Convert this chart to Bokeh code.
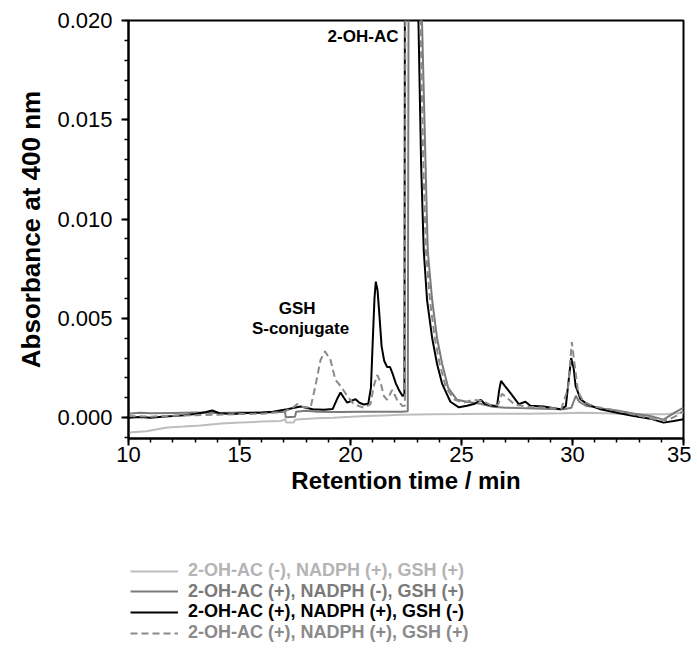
from bokeh.plotting import figure
from bokeh.layouts import column
from bokeh.models import Legend, LegendItem, FixedTicker, NumeralTickFormatter, ColumnDataSource
from bokeh.core.properties import value
from bokeh.embed import file_html
from bokeh.resources import INLINE

FONT = "Liberation Sans"

# ---------------- data ----------------
# 2-OH-AC (-), NADPH (+), GSH (+)
t_light = [10.0, 10.8, 11.74, 12.5, 13.24, 14.2, 15.05, 16.0, 16.85, 17.07, 17.1, 17.45, 17.5, 17.75,
           18.5, 19.23, 20.0, 20.75, 21.5, 22.26, 23.0, 23.76, 25.0, 26.5, 28.0, 29.5, 30.36, 31.5,
           32.76, 34.2, 35.0]
a_light = [-0.00075, -0.00068, -0.00050, -0.00045, -0.00039, -0.00030, -0.00025, -0.00020, -0.00017,
           -0.00008, -0.00025, -0.00024, -0.00010, -0.00008, -0.00003, 0.00000, 0.00004, 0.00008,
           0.00011, 0.00014, 0.00016, 0.00017, 0.00018, 0.00020, 0.00020, 0.00022, 0.00025, 0.00022,
           0.00017, 0.00017, 0.00025]

# 2-OH-AC (+), NADPH (-), GSH (+)
t_gray = [10.0, 10.5, 11.0, 12.0, 13.0, 14.0, 15.0, 16.0, 16.9, 17.05, 17.08, 17.5, 17.55, 18.0, 18.5,
          19.5, 20.5, 21.5, 22.3, 22.58, 22.63, 23.0, 23.22, 23.38, 23.48, 23.68, 23.9, 24.13, 24.4,
          24.8, 25.25, 25.86, 26.4, 27.0, 27.6, 28.3, 29.0, 29.6, 29.95, 30.05, 30.15, 30.3, 30.6,
          31.2, 32.0, 32.8, 33.5, 34.1, 34.6, 35.0]
a_gray = [0.00020, 0.00025, 0.00022, 0.00024, 0.00026, 0.00024, 0.00026, 0.00025, 0.00028, 0.00030,
          0.00002, 0.00004, 0.00030, 0.00035, 0.00030, 0.00028, 0.00030, 0.00030, 0.00030, 0.00032,
          0.03, 0.08, 0.0200, 0.0128, 0.0084, 0.0059, 0.0040, 0.0027, 0.0015, 0.0009, 0.0008, 0.0007,
          0.00055, 0.0005, 0.00048, 0.00046, 0.00044, 0.00042, 0.00050, 0.00080, 0.00110, 0.00080,
          0.00060, 0.00048, 0.00036, 0.00020, 0.00008, -0.0001, 0.00025, 0.0005]

# 2-OH-AC (+), NADPH (+), GSH (-)
t_black = [10.0, 10.5, 11.0, 11.5, 12.0, 12.5, 13.0, 13.5, 13.77, 14.1, 14.7, 15.3, 16.0, 16.5, 17.15,
           17.75, 18.3, 18.8, 19.2, 19.4, 19.55, 19.7, 19.85, 20.05, 20.23, 20.4, 20.6, 20.8, 20.92,
           21.0, 21.08, 21.14, 21.22, 21.3, 21.4, 21.52, 21.65, 21.78, 21.9, 22.05, 22.2, 22.35, 22.43,
           22.46, 22.8, 23.06, 23.18, 23.3, 23.45, 23.68, 23.9, 24.13, 24.5, 24.88, 25.25, 25.6, 25.86,
           26.05, 26.3, 26.6, 26.7, 26.78, 26.95, 27.2, 27.58, 27.88, 28.1, 28.7, 29.46, 29.7, 29.83,
           29.94, 30.05, 30.14, 30.36, 30.66, 31.26, 32.0, 32.76, 33.5, 34.1, 34.56, 35.0]
a_black = [0.00000, 0.00003, 0.00000, 0.00005, 0.00008, 0.00012, 0.00018, 0.00028, 0.00036, 0.00022,
           0.00018, 0.00024, 0.00026, 0.00030, 0.00042, 0.00056, 0.00042, 0.00040, 0.00044, 0.00095,
           0.00127, 0.00100, 0.00076, 0.00085, 0.00093, 0.00075, 0.00066, 0.00070, 0.00150, 0.00380,
           0.00600, 0.00685, 0.00640, 0.00520, 0.00360, 0.00285, 0.00255, 0.00255, 0.00220, 0.00170,
           0.00135, 0.00108, 0.00120, 0.03, 0.08, 0.0200, 0.0128, 0.0084, 0.0059, 0.0040, 0.0027,
           0.0017, 0.00080, 0.00052, 0.00060, 0.00070, 0.00090, 0.00070, 0.00062, 0.00058, 0.00140,
           0.00185, 0.00160, 0.00125, 0.00068, 0.00080, 0.00060, 0.00056, 0.00042, 0.00058, 0.00190,
           0.00300, 0.00250, 0.00160, 0.00093, 0.00068, 0.00042, 0.00025, 0.00008, -0.00005, -0.00025,
           -0.00017, -0.00008]

# 2-OH-AC (+), NADPH (+), GSH (+)
t_dash = [10.0, 11.0, 12.0, 13.0, 14.0, 15.0, 16.0, 17.0, 17.4, 17.6, 17.8, 18.2, 18.42, 18.65, 18.85,
          19.1, 19.32, 19.55, 19.85, 20.15, 20.6, 20.9, 21.05, 21.2, 21.35, 21.5, 21.65, 21.88, 22.1,
          22.33, 22.45, 22.48, 22.85, 23.15, 23.28, 23.4, 23.58, 23.8, 24.02, 24.3, 24.7, 25.1, 25.5,
          25.9, 26.4, 26.65, 26.82, 27.0, 27.4, 28.0, 28.8, 29.5, 29.8, 29.97, 30.08, 30.25, 30.5,
          31.0, 32.0, 33.0, 33.8, 34.3, 34.7, 35.0]
a_dash = [0.00008, 0.00005, 0.00010, 0.00012, 0.00015, 0.00018, 0.00020, 0.00030, 0.00050, 0.00068,
          0.00055, 0.00050, 0.00160, 0.00290, 0.00334, 0.00290, 0.00190, 0.00160, 0.00110, 0.00068,
          0.00050, 0.00068, 0.00160, 0.00215, 0.00180, 0.00110, 0.00090, 0.00140, 0.00090, 0.00059,
          0.00060, 0.03, 0.08, 0.0200, 0.0128, 0.0084, 0.0059, 0.0040, 0.0027, 0.0015, 0.0009,
          0.00075, 0.00090, 0.00085, 0.00060, 0.00065, 0.00120, 0.00105, 0.00065, 0.00055, 0.00050,
          0.00045, 0.00150, 0.00380, 0.00280, 0.00130, 0.00080, 0.00055, 0.00035, 0.00010, -0.00010,
          -0.00012, 0.00010, 0.00035]

series_labels = ["2-OH-AC (-), NADPH (+), GSH (+)",
                 "2-OH-AC (+), NADPH (-), GSH (+)",
                 "2-OH-AC (+), NADPH (+), GSH (-)",
                 "2-OH-AC (+), NADPH (+), GSH (+)"]

x_ticks = [10, 15, 20, 25, 30, 35]
y_ticks = [0.000, 0.005, 0.010, 0.015, 0.020]

ann_x = [22.16, 17.6, 17.75]
ann_y = [0.0192, 0.0055, 0.0045]
ann_text = ["2-OH-AC", "GSH", "S-conjugate"]

data = [(t_light, a_light), (t_gray, a_gray), (t_black, a_black), (t_dash, a_dash)]
styles = [dict(color="#bdbdbd", dash="solid"),
          dict(color="#7a7a7a", dash="solid"),
          dict(color="#000000", dash="solid"),
          dict(color="#8a8a8a", dash="7 4")]
text_colors = ["#b4b4b4", "#7a7a7a", "#000000", "#8a8a8a"]

# ---------------- main chart ----------------
p = figure(frame_width=555, frame_height=418, x_range=(10, 35), y_range=(-0.00105, 0.020),
           output_backend="svg", toolbar_location=None,
           min_border_left=128, min_border_right=8, min_border_top=20, min_border_bottom=110)
p.xgrid.visible = False
p.ygrid.visible = False
p.outline_line_color = "black"
p.outline_line_width = 2

for (tt, aa), st in zip(data, styles):
    p.line(tt, aa, line_color=st["color"], line_width=2, line_dash=st["dash"])

for ax in (p.xaxis[0], p.yaxis[0]):
    ax.axis_line_width = 2
    ax.major_tick_line_width = 2
    ax.minor_tick_line_width = 1.5
    ax.major_tick_out = 7
    ax.major_tick_in = 0
    ax.minor_tick_out = 4
    ax.minor_tick_in = 0
    ax.major_label_text_font = FONT
    ax.major_label_text_font_size = "22px"
    ax.major_label_text_color = "black"
    ax.axis_label_text_font = FONT
    ax.axis_label_text_font_style = "bold"
    ax.axis_label_text_color = "black"

p.xaxis[0].ticker = FixedTicker(ticks=x_ticks, minor_ticks=list(range(10, 36)))
p.yaxis[0].ticker = FixedTicker(ticks=y_ticks,
                                minor_ticks=[round(-0.001 + 0.001 * i, 3) for i in range(22)])
p.yaxis[0].formatter = NumeralTickFormatter(format="0.000")
p.xaxis[0].axis_label = "Retention time / min"
p.yaxis[0].axis_label = "Absorbance at 400 nm"
p.xaxis[0].axis_label_text_font_size = "24px"
p.yaxis[0].axis_label_text_font_size = "26px"
p.xaxis[0].major_label_standoff = 1
p.yaxis[0].major_label_standoff = 9
p.xaxis[0].axis_label_standoff = 2
p.yaxis[0].axis_label_standoff = 8

src = ColumnDataSource(dict(x=ann_x, y=ann_y, text=ann_text,
                            align=["right", "center", "center"]))
p.text(x="x", y="y", text="text", source=src, text_align="align", text_baseline="middle",
       text_font=value(FONT), text_font_style="bold", text_font_size="17px", text_color="black")

# ---------------- legend strip (same series, outside its visible range) ----------------
LEG_H = 94
q = figure(frame_width=555, frame_height=LEG_H, x_range=(100, 101), y_range=(100, 101),
           output_backend="svg", toolbar_location=None, x_axis_location=None, y_axis_location=None,
           min_border_left=128, min_border_right=8, min_border_top=0, min_border_bottom=0)
q.xgrid.visible = False
q.ygrid.visible = False
q.outline_line_color = None

row_h = 20
top0 = 23.0       # centre of the first row below the strip's top
step = 20.7
for i, ((tt, aa), st, lab, tc) in enumerate(zip(data, styles, series_labels, text_colors)):
    r = q.line(tt, aa, line_color=st["color"], line_width=2, line_dash=st["dash"])
    centre = top0 + step * i
    vy = LEG_H - (centre + row_h / 2)
    lg = Legend(items=[LegendItem(label=lab, renderers=[r])], location=(2, vy),
                orientation="vertical", padding=0, margin=0, spacing=0,
                glyph_width=48, glyph_height=row_h, label_height=row_h, label_standoff=10,
                label_text_font=FONT, label_text_font_size="18px", label_text_font_style="bold",
                label_text_color=tc, border_line_color=None, background_fill_alpha=0,
                click_policy="none")
    q.add_layout(lg, "center")

open("out.html", "w").write(file_html(column(p, q, spacing=0), INLINE))
